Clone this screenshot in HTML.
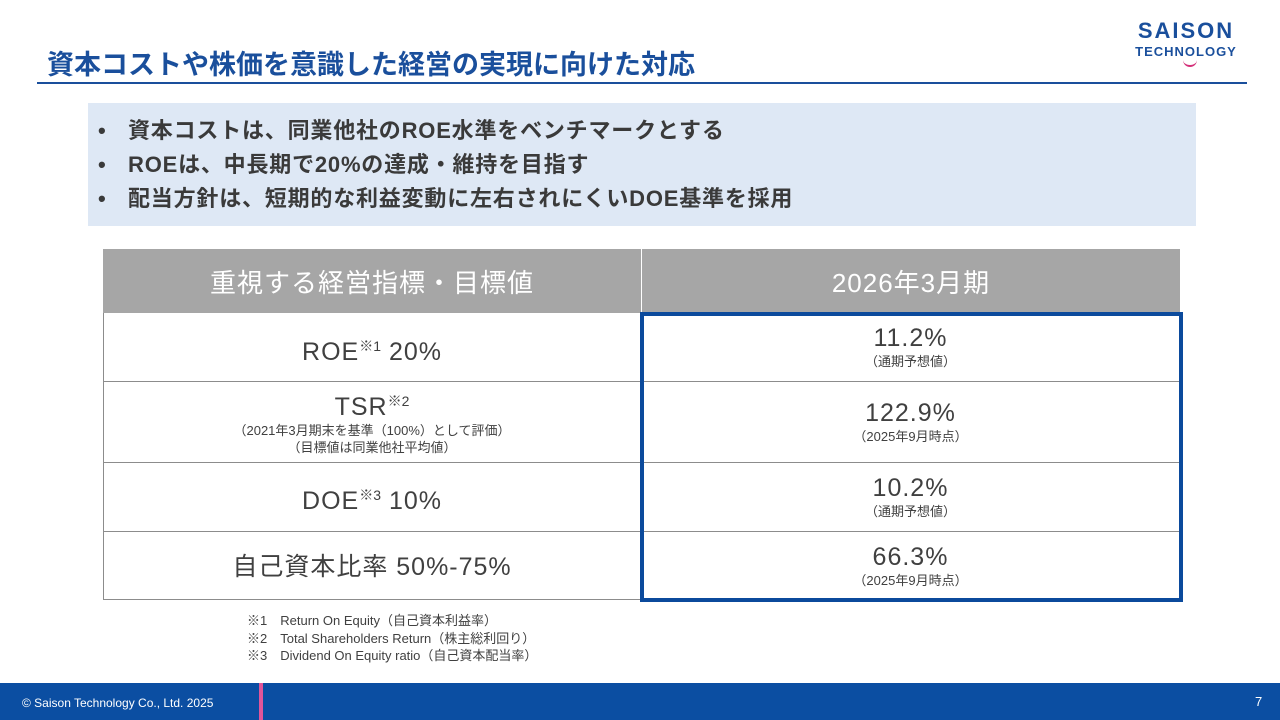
<!DOCTYPE html>
<html><head><meta charset="utf-8">
<style>
body{margin:0;width:1280px;height:720px;position:relative;overflow:hidden;background:#fff;font-family:"Liberation Sans","Noto Sans CJK JP",sans-serif;}
.a{position:absolute}
.cell{position:absolute;display:flex;flex-direction:column;align-items:center;justify-content:center;color:#404040;text-align:center;box-sizing:border-box}
.big{font-size:25px;line-height:29px;letter-spacing:1px}
.sm{font-size:13px;line-height:17px}
sup{font-size:14px;vertical-align:9px;letter-spacing:0}
.bl{position:relative;padding-left:30px}
.bl span{position:absolute;left:0}
</style></head><body>
<div class="a" style="left:47px;top:43px;font-size:27px;font-weight:bold;color:#1a4f9c;">資本コストや株価を意識した経営の実現に向けた対応</div>
<div class="a" style="left:37px;top:82px;width:1210px;height:2px;background:#1a4f9c"></div>
<div class="a" style="left:1126px;top:18px;width:120px;text-align:center;color:#1a4f9c;font-weight:bold">
<div style="font-size:22px;letter-spacing:2px;line-height:26px">SAISON</div>
<div style="font-size:13px;letter-spacing:1px;line-height:16px">TECHNOLOGY</div>
<div style="position:absolute;left:57px;top:42px;width:14px;height:5px;border-bottom:2px solid #d4317a;border-radius:0 0 8px 8px"></div>
</div>
<div class="a" style="left:88px;top:103px;width:1108px;height:123px;background:#dee8f5"></div>
<div class="a" style="left:98px;top:114px;font-size:22px;letter-spacing:0.8px;font-weight:bold;color:#3a3a3a;line-height:34px">
<div class="bl"><span>•</span>資本コストは、同業他社のROE水準をベンチマークとする</div>
<div class="bl"><span>•</span>ROEは、中長期で20%の達成・維持を目指す</div>
<div class="bl"><span>•</span>配当方針は、短期的な利益変動に左右されにくいDOE基準を採用</div>
</div>
<div class="a" style="left:103px;top:249px;width:1077px;height:64px;background:#a6a6a6"></div>
<div class="cell" style="left:103px;top:249px;width:538px;height:64px;color:#fff;font-size:26px;letter-spacing:1px">重視する経営指標・目標値</div>
<div class="cell" style="left:641px;top:249px;width:539px;height:64px;color:#fff;font-size:26px;letter-spacing:1px;border-left:1px solid #fff">2026年3月期</div>
<div class="a" style="left:103px;top:313px;width:1077px;height:287px;border:1px solid #8c8c8c;border-top:none;box-sizing:border-box"></div>
<div class="a" style="left:103px;top:381px;width:1077px;height:1px;background:#8c8c8c"></div>
<div class="a" style="left:103px;top:462px;width:1077px;height:1px;background:#8c8c8c"></div>
<div class="a" style="left:103px;top:531px;width:1077px;height:1px;background:#8c8c8c"></div>
<div class="cell" style="left:103px;top:313px;width:538px;height:72px"><div class="big">ROE<sup>※1</sup> 20%</div></div>
<div class="cell" style="left:103px;top:381px;width:538px;height:81px"><div class="big">TSR<sup>※2</sup></div><div class="sm">（2021年3月期末を基準（100%）として評価）</div><div class="sm">（目標値は同業他社平均値）</div></div>
<div class="cell" style="left:103px;top:462px;width:538px;height:72px"><div class="big">DOE<sup>※3</sup> 10%</div></div>
<div class="cell" style="left:103px;top:531px;width:538px;height:72px"><div class="big">自己資本比率 50%-75%</div></div>
<div class="cell" style="left:641px;top:313px;width:539px;height:68px"><div class="big">11.2%</div><div class="sm">（通期予想値）</div></div>
<div class="cell" style="left:641px;top:381px;width:539px;height:81px"><div class="big">122.9%</div><div class="sm">（2025年9月時点）</div></div>
<div class="cell" style="left:641px;top:462px;width:539px;height:69px"><div class="big">10.2%</div><div class="sm">（通期予想値）</div></div>
<div class="cell" style="left:641px;top:531px;width:539px;height:69px"><div class="big">66.3%</div><div class="sm">（2025年9月時点）</div></div>
<div class="a" style="left:640px;top:312px;width:543px;height:290px;border:4px solid #0b4a9c;box-sizing:border-box"></div>
<div class="a" style="left:247px;top:612px;font-size:13px;line-height:17.5px;color:#404040">
<div>※1　Return On Equity（自己資本利益率）</div>
<div>※2　Total Shareholders Return（株主総利回り）</div>
<div>※3　Dividend On Equity ratio（自己資本配当率）</div>
</div>
<div class="a" style="left:0;top:683px;width:1280px;height:37px;background:#0b4ea2"></div>
<div class="a" style="left:259px;top:683px;width:4px;height:37px;background:#e0559a"></div>
<div class="a" style="left:22px;top:696px;font-size:12px;color:#fff">© Saison Technology Co., Ltd. 2025</div>
<div class="a" style="left:1255px;top:694px;font-size:13px;color:#fff">7</div>
</body></html>
